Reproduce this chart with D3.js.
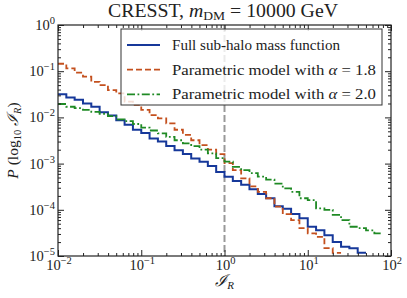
<!DOCTYPE html>
<html>
<head>
<meta charset="utf-8">
<script src="https://cdn.jsdelivr.net/npm/d3@7"></script>
<style>
  body { margin: 0; background: #fff; }
  svg { display: block; }
  svg text { font-family: "Liberation Serif", "DejaVu Serif", serif; }
</style>
</head>
<body>
<div class="chart-container"></div>
<script>
var totalWidth = 407;
var totalHeight = 298;
var margin = { top: 25, bottom: 42, left: 58, right: 16 };
var width = totalWidth - margin.left - margin.right;
var height = totalHeight - margin.top - margin.bottom;

// histogram bins: 10 per decade from 1e-2 to 1e2
var binEdges = d3.range(41).map(i => Math.pow(10, -2 + i / 10));

var fullSubhalo = [3.16e-2, 2.69e-2, 2.40e-2, 2.00e-2, 1.70e-2, 1.29e-2, 1.10e-2, 8.7e-3, 6.9e-3, 5.4e-3,
  4.6e-3, 3.5e-3, 3.0e-3, 2.4e-3, 1.95e-3, 1.62e-3, 1.29e-3, 1.10e-3, 8.9e-4, 6.6e-4,
  5.2e-4, 4.2e-4, 3.5e-4, 2.8e-4, 2.2e-4, 1.78e-4, 1.20e-4, 1.05e-4, 8.1e-5, 6.6e-5,
  4.3e-5, 3.6e-5, 2.8e-5, 2.0e-5, 1.58e-5, 1.48e-5, 1.17e-5, null, null, null];

var alpha18 = [0.145, 0.115, 0.093, 0.076, 0.059, 0.050, 0.039, 0.033, 0.022, 0.0186,
  0.0145, 0.0112, 0.0095, 0.0074, 0.0054, 0.0042, 0.0032, 0.0025, 0.0020, 0.0016,
  1.02e-3, 7.2e-4, 4.8e-4, 3.2e-4, 2.45e-4, 1.78e-4, 1.17e-4, 8.1e-5, 6.0e-5, 4.0e-5,
  3.1e-5, 2.6e-5, 1.48e-5, 1.17e-5, null, null, null, null, null, null];

var alpha20 = [0.0195, 0.0170, 0.0158, 0.0145, 0.0132, 0.0120, 0.0107, 0.0091, 0.0083, 0.0072,
  0.0060, 0.0052, 0.0045, 0.0038, 0.0032, 0.00275, 0.0024, 0.0020, 0.00166, 0.00132,
  1.10e-3, 8.5e-4, 7.2e-4, 6.2e-4, 5.2e-4, 4.5e-4, 3.7e-4, 2.9e-4, 2.45e-4, 1.78e-4,
  1.62e-4, 1.07e-4, 1.00e-4, 7.8e-5, 6.0e-5, 4.3e-5, 4.0e-5, 3.6e-5, 3.1e-5, null];

var series = [
  { name: 'Full sub-halo mass function', values: fullSubhalo, color: '#16389a', dash: null, width: 2, textW: 168 },
  { name: 'Parametric model with ', alphaVal: '1.8', values: alpha18, color: '#c4501e', dash: '6,3', width: 1.8, textW: 204 },
  { name: 'Parametric model with ', alphaVal: '2.0', values: alpha20, color: '#1f8a24', dash: '8,2.5,1.8,2.5', width: 1.8, textW: 204 }
];

var xTickExps = [-2, -1, 0, 1, 2];
var yTickExps = [-5, -4, -3, -2, -1, 0];

var svg = d3.select('.chart-container').append('svg')
  .attr('width', totalWidth)
  .attr('height', totalHeight);

var x = d3.scaleLog().domain([1e-2, 1e2]).range([margin.left, margin.left + width]);
var y = d3.scaleLog().domain([1e-5, 1]).range([margin.top + height, margin.top]);

svg.append('clipPath').attr('id', 'plot-clip')
  .append('rect')
  .attr('x', margin.left).attr('y', margin.top)
  .attr('width', width).attr('height', height);

var plot = svg.append('g').attr('clip-path', 'url(#plot-clip)');

// reference line at I_R = 1
plot.append('line')
  .attr('x1', x(1)).attr('x2', x(1))
  .attr('y1', margin.top).attr('y2', margin.top + height)
  .attr('stroke', '#999')
  .attr('stroke-width', 2)
  .attr('stroke-dasharray', '7,3');

function stepPoints(values) {
  var pts = [];
  values.forEach((v, i) => {
    if (v == null) return;
    pts.push([binEdges[i], v]);
    pts.push([binEdges[i + 1], v]);
  });
  return pts;
}

var line = d3.line()
  .x(d => x(d[0]))
  .y(d => y(d[1]));

series.forEach(s => {
  plot.append('path')
    .attr('d', line(stepPoints(s.values)))
    .attr('fill', 'none')
    .attr('stroke', s.color)
    .attr('stroke-width', s.width)
    .attr('stroke-dasharray', s.dash)
    .attr('stroke-linejoin', 'miter');
});

/*
 * Axes, ticks pointing inward on all four sides
 */
var majorX = xTickExps.map(e => Math.pow(10, e));
var minorX = [];
xTickExps.slice(0, -1).forEach(e => d3.range(2, 10).forEach(m => minorX.push(m * Math.pow(10, e))));
var majorY = yTickExps.map(e => Math.pow(10, e));
var minorY = [];
yTickExps.slice(0, -1).forEach(e => d3.range(2, 10).forEach(m => minorY.push(m * Math.pow(10, e))));

function addAxis(axis, transform) {
  var g = svg.append('g').attr('transform', transform).call(axis);
  g.select('.domain').remove();
  g.selectAll('line').attr('stroke', '#222').attr('stroke-width', 1);
  g.selectAll('text').remove();
}

var bottomY = margin.top + height;
var rightX = margin.left + width;
addAxis(d3.axisBottom(x).tickValues(majorX).tickSize(-6).tickFormat(''), `translate(0,${bottomY})`);
addAxis(d3.axisBottom(x).tickValues(minorX).tickSize(-3).tickFormat(''), `translate(0,${bottomY})`);
addAxis(d3.axisTop(x).tickValues(majorX).tickSize(-6).tickFormat(''), `translate(0,${margin.top})`);
addAxis(d3.axisTop(x).tickValues(minorX).tickSize(-3).tickFormat(''), `translate(0,${margin.top})`);
addAxis(d3.axisLeft(y).tickValues(majorY).tickSize(-6).tickFormat(''), `translate(${margin.left},0)`);
addAxis(d3.axisLeft(y).tickValues(minorY).tickSize(-3).tickFormat(''), `translate(${margin.left},0)`);
addAxis(d3.axisRight(y).tickValues(majorY).tickSize(-6).tickFormat(''), `translate(${rightX},0)`);
addAxis(d3.axisRight(y).tickValues(minorY).tickSize(-3).tickFormat(''), `translate(${rightX},0)`);

svg.append('rect')
  .attr('x', margin.left).attr('y', margin.top)
  .attr('width', width).attr('height', height)
  .attr('fill', 'none')
  .attr('stroke', '#222')
  .attr('stroke-width', 1.2);

function powerLabel(sel, e) {
  sel.append('tspan').text('10');
  sel.append('tspan')
    .attr('dy', -6)
    .attr('font-size', '10.5px')
    .text(e < 0 ? '\u2212' + (-e) : String(e));
}

xTickExps.forEach(e => {
  svg.append('text')
    .attr('x', x(Math.pow(10, e)) + 1)
    .attr('y', bottomY + 14)
    .attr('text-anchor', 'middle')
    .attr('font-size', '14.5px')
    .attr('fill', '#222')
    .call(powerLabel, e);
});

yTickExps.forEach(e => {
  svg.append('text')
    .attr('x', margin.left - 3)
    .attr('y', y(Math.pow(10, e)) + 5)
    .attr('text-anchor', 'end')
    .attr('font-size', '14.5px')
    .attr('fill', '#222')
    .call(powerLabel, e);
});

// title
var title = svg.append('text')
  .attr('x', 108)
  .attr('y', 17)
  .attr('textLength', 230)
  .attr('lengthAdjust', 'spacingAndGlyphs')
  .attr('font-size', '19px')
  .attr('fill', '#222');
title.append('tspan').text('CRESST, ');
title.append('tspan').attr('font-style', 'italic').text('m');
title.append('tspan').attr('font-size', '13px').attr('dy', 3).text('DM');
title.append('tspan').attr('dy', -3).text(' = 10000 GeV');

// axis labels
var xLabel = svg.append('text')
  .attr('x', margin.left + width / 2)
  .attr('y', 286)
  .attr('text-anchor', 'middle')
  .attr('font-size', '16px')
  .attr('fill', '#222');
xLabel.append('tspan').attr('font-style', 'italic').text('\u2110');
xLabel.append('tspan').attr('font-style', 'italic').attr('font-size', '11px').attr('dy', 3).text('R');

var yLabel = svg.append('text')
  .attr('transform', `translate(18, ${margin.top + height / 2}) rotate(-90)`)
  .attr('text-anchor', 'middle')
  .attr('font-size', '15.5px')
  .attr('fill', '#222');
yLabel.append('tspan').attr('font-style', 'italic').text('P');
yLabel.append('tspan').text(' (log');
yLabel.append('tspan').attr('font-size', '10.5px').attr('dy', 3).text('10');
yLabel.append('tspan').attr('dy', -3).attr('font-style', 'italic').text(' \u2110');
yLabel.append('tspan').attr('font-style', 'italic').attr('font-size', '10.5px').attr('dy', 3).text('R');
yLabel.append('tspan').attr('dy', -3).text(')');

// legend
var legend = svg.append('g');
legend.append('rect')
  .attr('x', 121).attr('y', 29)
  .attr('width', 261).attr('height', 76)
  .attr('fill', '#fff')
  .attr('fill-opacity', 0.8)
  .attr('stroke', '#333')
  .attr('stroke-width', 1);

series.forEach((s, i) => {
  var ly = 45 + i * 24.7;
  legend.append('line')
    .attr('x1', 127).attr('x2', 160)
    .attr('y1', ly).attr('y2', ly)
    .attr('stroke', s.color)
    .attr('stroke-width', s.width)
    .attr('stroke-dasharray', s.dash);
  var t = legend.append('text')
    .attr('x', 172)
    .attr('y', ly + 5)
    .attr('textLength', s.textW)
    .attr('lengthAdjust', 'spacingAndGlyphs')
    .attr('font-size', '15.2px')
    .attr('fill', '#222');
  t.append('tspan').text(s.name);
  if (s.alphaVal) {
    t.append('tspan').attr('font-style', 'italic').text('\u03b1');
    t.append('tspan').text(' = ' + s.alphaVal);
  }
});
</script>
</body>
</html>
